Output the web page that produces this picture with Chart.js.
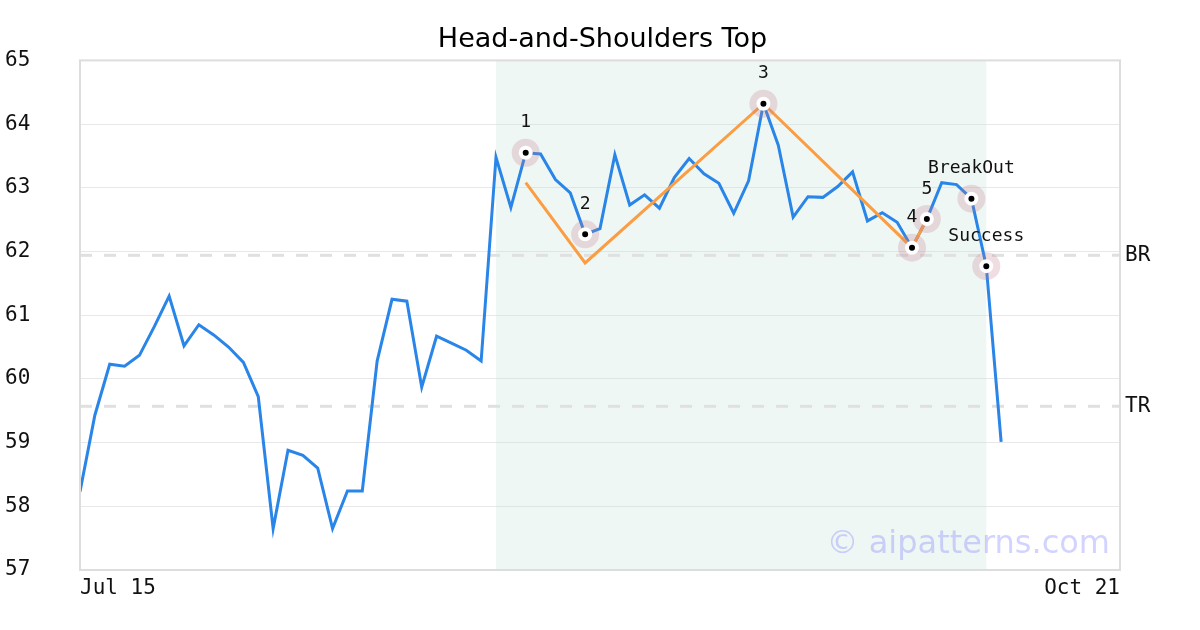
<!DOCTYPE html>
<html>
<head>
<meta charset="utf-8">
<script src="https://cdn.jsdelivr.net/npm/chart.js@4"></script>
<style>
  html, body { margin: 0; padding: 0; background: #fff; }
  #wrap { width: 1200px; height: 630px; }
</style>
</head>
<body>
<div id="wrap"><canvas id="canvas" width="1200" height="630"></canvas></div>
<script>
// closing prices, one per trading day from Jul 15
const closes = [58.23, 59.43, 60.23, 60.20, 60.37, 60.82, 61.30, 60.52, 60.85, 60.69,
  60.50, 60.26, 59.72, 57.65, 58.88, 58.80, 58.60, 57.65, 58.24, 58.24,
  60.28, 61.25, 61.22, 59.87, 60.67, 60.56, 60.45, 60.28, 63.48, 62.69,
  63.55, 63.53, 63.13, 62.92, 62.27, 62.36, 63.52, 62.73, 62.89, 62.68,
  63.16, 63.46, 63.22, 63.07, 62.60, 63.11, 64.32, 63.67, 62.54, 62.86,
  62.85, 63.02, 63.25, 62.48, 62.61, 62.46, 62.06, 62.51, 63.08, 63.05,
  62.83, 61.77, 59.01];

// x axis: 71 trading days, only first and last labelled
const xTickPositions = [0, 70];
const xTickLabels = ["Jul 15", "Oct 21"];
const yTicks = [57, 58, 59, 60, 61, 62, 63, 64, 65];

// pattern key points
const markIdx = [30, 34, 46, 56, 57, 60, 61];
const markLabels = ["1", "2", "3", "4", "5", "BreakOut", "Success"];

// orange pattern outline
const outlineIdx = [30, 34, 46, 56, 57];
const outlineVals = [63.08, 61.82, 64.32, 62.06, 62.51];

// support / resistance levels
const levelNames = ["BR", "TR"];
const levelVals = [61.94, 59.57];

// shaded pattern window (index range)
const shadeRange = [28, 61];

const MONO = "'DejaVu Sans Mono', monospace";

const bluePts = closes.map((v, i) => ({ x: i, y: v }));
const markPts = markIdx.map((i) => ({ x: i, y: closes[i] }));
const outlinePts = outlineIdx.map((i, k) => ({ x: i, y: outlineVals[k] }));
const levelSets = levelVals.map((v) => ({
  data: [{ x: xTickPositions[0], y: v }, { x: xTickPositions[1], y: v }],
  borderColor: "#e0e0e0",
  borderWidth: 3,
  borderDash: [12, 12],
  pointRadius: 0,
}));

// shade + frame under the lines
const backdrop = {
  id: "backdrop",
  beforeDatasetsDraw(chart) {
    const { ctx, chartArea: a, scales } = chart;
    const x0 = scales.x.getPixelForValue(shadeRange[0]);
    const x1 = scales.x.getPixelForValue(shadeRange[1]);
    ctx.save();
    ctx.fillStyle = "rgba(190,225,210,0.25)";
    ctx.fillRect(x0, a.top, x1 - x0, a.bottom - a.top);
    ctx.restore();
  },
  afterDraw(chart) {
    const { ctx, chartArea: a } = chart;
    ctx.save();
    ctx.strokeStyle = "#dddddd";
    ctx.lineWidth = 2;
    ctx.strokeRect(a.left, a.top, a.right - a.left, a.bottom - a.top);
    // watermark
    ctx.font = "32px 'DejaVu Sans', sans-serif";
    ctx.fillStyle = "rgba(110,110,255,0.3)";
    ctx.textAlign = "right";
    ctx.textBaseline = "alphabetic";
    ctx.fillText("\u00a9 aipatterns.com", a.right - 10, a.bottom - 17);
    ctx.restore();
  },
};

// text above each key point
const markText = {
  id: "markText",
  afterDatasetsDraw(chart) {
    const { ctx } = chart;
    const meta = chart.getDatasetMeta(0);
    ctx.save();
    ctx.font = "18px " + MONO;
    ctx.fillStyle = "#111";
    ctx.textAlign = "center";
    ctx.textBaseline = "middle";
    meta.data.forEach((pt, k) => {
      ctx.fillText(markLabels[k], pt.x, pt.y - 30);
    });
    ctx.restore();
  },
};

Chart.defaults.font.family = MONO;
Chart.defaults.font.size = 21;
Chart.defaults.color = "#111";

new Chart(document.getElementById("canvas").getContext("2d"), {
  type: "line",
  data: {
    datasets: [
      {
        data: markPts,
        showLine: false,
        pointRadius: 5,
        pointBackgroundColor: "#000",
        pointBorderColor: "#fff",
        pointBorderWidth: 4,
      },
      {
        data: markPts,
        showLine: false,
        pointRadius: 14,
        pointBackgroundColor: "rgba(190,120,140,0.25)",
        pointBorderWidth: 0,
      },
      {
        data: outlinePts,
        borderColor: "#fb9d43",
        borderWidth: 3,
        pointRadius: 0,
      },
      {
        data: bluePts,
        borderColor: "#2a85e8",
        borderWidth: 3,
        pointRadius: 0,
      },
      ...levelSets,
    ],
  },
  options: {
    responsive: false,
    animation: false,
    layout: { padding: { left: 5, right: 0, top: 0, bottom: 0 } },
    plugins: {
      legend: { display: false },
      tooltip: { enabled: false },
      title: {
        display: true,
        text: "Head-and-Shoulders Top",
        color: "#000",
        font: { family: "'DejaVu Sans', sans-serif", size: 27, weight: "normal" },
        padding: { top: 24, bottom: 4 },
      },
    },
    scales: {
      x: {
        type: "linear",
        min: xTickPositions[0],
        max: xTickPositions[1],
        grid: { display: false, drawTicks: false },
        border: { display: false },
        afterBuildTicks: (s) => { s.ticks = xTickPositions.map((v) => ({ value: v })); },
        afterFit: (s) => { s.height = 60; },
        ticks: {
          align: "inner",
          padding: 6,
          maxRotation: 0,
          callback: (v) => xTickLabels[xTickPositions.indexOf(v)],
        },
      },
      y: {
        position: "left",
        min: yTicks[0],
        max: yTicks[yTicks.length - 1],
        grid: { color: "#e8e8e8", lineWidth: 1, drawTicks: false },
        border: { display: false },
        afterBuildTicks: (s) => { s.ticks = yTicks.map((v) => ({ value: v })); },
        afterFit: (s) => { s.width = 75; },
        ticks: { crossAlign: "far", padding: 10 },
      },
      yr: {
        position: "right",
        min: yTicks[0],
        max: yTicks[yTicks.length - 1],
        grid: { display: false, drawTicks: false },
        border: { display: false },
        afterBuildTicks: (s) => { s.ticks = levelVals.map((v) => ({ value: v })); },
        afterFit: (s) => { s.width = 80; },
        ticks: {
          padding: 5,
          callback: (v) => levelNames[levelVals.indexOf(v)],
        },
      },
    },
  },
  plugins: [backdrop, markText],
});
</script>
</body>
</html>
